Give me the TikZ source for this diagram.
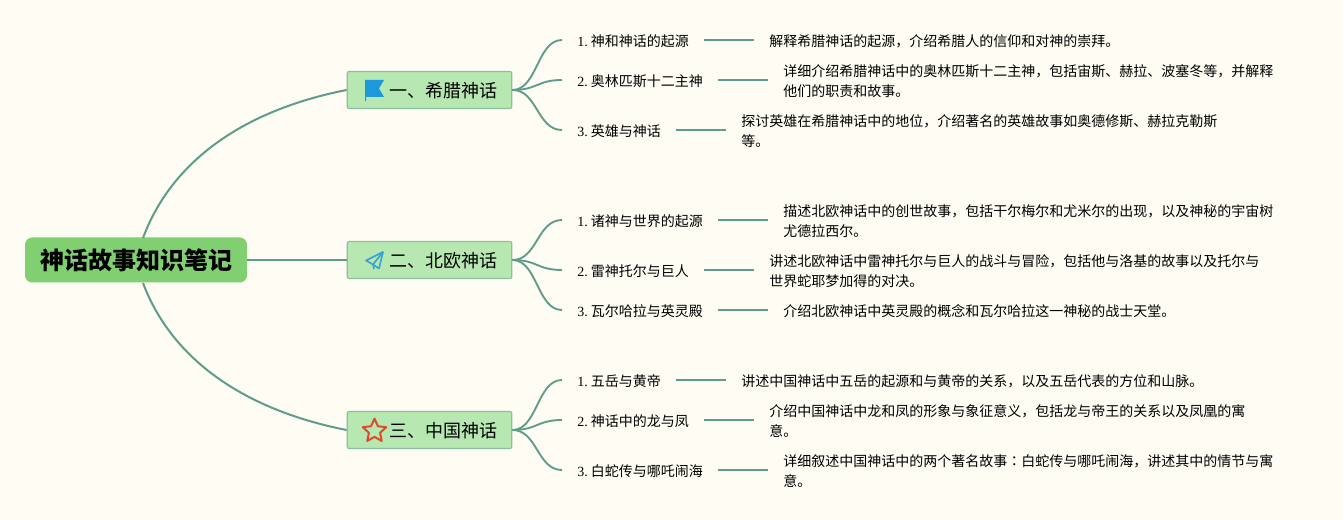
\documentclass[tikz,border=0pt]{standalone}
\usepackage{fontspec}
\setmainfont{Noto Sans CJK SC}
\newfontfamily\numfont{Liberation Serif}
\newfontfamily\tcfont{Noto Sans CJK TC}
\usetikzlibrary{positioning,shapes.geometric}
\definecolor{paper}{HTML}{FEFCF3}
\definecolor{linkcol}{HTML}{5F9C8C}
\definecolor{rootcol}{HTML}{80CF71}
\definecolor{topiccol}{HTML}{B7E8B2}
\definecolor{topicedge}{HTML}{8ABFA0}
\definecolor{flagcol}{HTML}{1E98DC}
\definecolor{planecol}{HTML}{36A3D3}
\definecolor{starcol}{HTML}{E2492C}
\tikzset{
rootbox/.style={fill=rootcol, rounded corners=5.5pt, minimum width=166.5pt, minimum height=33.75pt, inner sep=0pt, text height=17pt, text depth=2pt, font=\fontsize{18}{18}\selectfont\bfseries},
topicbox/.style={fill=topiccol, draw=topicedge, line width=0.9pt, rounded corners=1.5pt, minimum width=123.5pt, minimum height=27.75pt, inner sep=0pt, text height=13pt, text depth=1.5pt, font=\fontsize{13.5}{13.5}\selectfont},
subbox/.style={anchor=west, yshift=-0.75pt, inner xsep=11.25pt, inner ysep=2pt, font=\fontsize{10.5}{15}\selectfont},
descbox/.style={right=37.5pt of #1, inner xsep=11.25pt, inner ysep=2pt, align=left, font=\fontsize{10.5}{15}\selectfont},
rootlink/.style={draw=linkcol, line width=1.5pt},
sublink/.style={draw=linkcol, line width=1.4pt},
}
\newcommand{\subnum}[1]{{\numfont #1.}\hspace{2.3pt}}
\begin{document}
\begin{tikzpicture}[x=0.75pt,y=-0.75pt]
\useasboundingbox (0,0) rectangle (1343,520);
\fill[paper] (0,0) rectangle (1343,520);
% root and topics
\node[rootbox] (root) at (136,260) {\hspace{1.5pt}神话故事知识笔记};
\node[topicbox] (greek) at (429.5,90) {\hspace{21pt}一、希腊神话};
\node[topicbox] (norse) at (429.5,260) {\hspace{21pt}二、北欧神话};
\node[topicbox] (china) at (429.5,430) {\hspace{21pt}三、中国神话};
\coordinate (rootup) at (143,238);
\coordinate (rootdown) at (143,283);
\draw[rootlink] (rootup) .. controls (172,160) and (245,110) .. (greek.west);
\draw[rootlink] (root.east) -- (norse.west);
\draw[rootlink] (rootdown) .. controls (172,360) and (245,410) .. (china.west);
% greek
\node[subbox] (g1) at (562,40) {\subnum{1}神和神话的起源};
\node[subbox] (g2) at (562,80) {\subnum{2}奥林匹斯十二主神};
\node[subbox] (g3) at (562,130) {\subnum{3}英雄与神话};
\node[descbox=g1] (gd1) {解释希腊神话的起源，介绍希腊人的信仰和对神的崇拜。};
\node[descbox=g2] (gd2) {详细介绍希腊神话中的奥林匹斯十二主神，包括宙斯、赫拉、波塞冬等，并解释\\他们的职责和故事。};
\node[descbox=g3] (gd3) {探讨英雄在希腊神话中的地位，介绍著名的英雄故事如奥德修斯、赫拉克勒斯\\等。};
% norse
\node[subbox] (n1) at (562,220) {\subnum{1}诸神与世界的起源};
\node[subbox] (n2) at (562,270) {\subnum{2}雷神托尔与巨人};
\node[subbox] (n3) at (562,310) {\subnum{3}瓦尔哈拉与英灵殿};
\node[descbox=n1] (nd1) {描述北欧神话中的创世故事，包括干尔梅尔和尤米尔的出现，以及神秘的宇宙树\\尤德拉西尔。};
\node[descbox=n2] (nd2) {讲述北欧神话中雷神托尔与巨人的战斗与冒险，包括他与洛基的故事以及托尔与\\世界蛇耶梦加得的对决。};
\node[descbox=n3] (nd3) {介绍北欧神话中英灵殿的概念和瓦尔哈拉这一神秘的战士天堂。};
% china
\node[subbox] (c1) at (562,380) {\subnum{1}五岳与黄帝};
\node[subbox] (c2) at (562,420) {\subnum{2}神话中的龙与凤};
\node[subbox] (c3) at (562,470) {\subnum{3}白蛇传与哪吒闹海};
\node[descbox=c1] (cd1) {讲述中国神话中五岳的起源和与黄帝的关系，以及五岳代表的方位和山脉。};
\node[descbox=c2] (cd2) {介绍中国神话中龙和凤的形象与象征意义，包括龙与帝王的关系以及凤凰的寓\\意。};
\node[descbox=c3] (cd3) {详细叙述中国神话中的两个著名故事{\tcfont ：}白蛇传与哪吒闹海，讲述其中的情节与寓\\意。};
% links
\foreach \topic/\kid in {greek/g1,greek/g2,greek/g3,norse/n1,norse/n2,norse/n3,china/c1,china/c2,china/c3}
\draw[sublink] (\topic.east) .. controls +(25,0) and ([xshift=-18.75pt,yshift=0.75pt]\kid.west) .. ([yshift=0.75pt]\kid.west);
\foreach \kid/\leaf in {g1/gd1,g2/gd2,g3/gd3,n1/nd1,n2/nd2,n3/nd3,c1/cd1,c2/cd2,c3/cd3}
\draw[sublink] ([yshift=0.75pt]\kid.east) -- ([yshift=0.75pt]\leaf.west);
% icons
\fill[flagcol] (365,80) -- (384,80) -- (379,88.5) -- (384,97) -- (366,97) -- (366,101) -- (365,101) -- cycle;
\draw[planecol, line width=1.2pt, line join=round] (383,252) -- (366,260.5) -- (373,264.5) -- (379,268.5) -- cycle;
\draw[planecol, line width=1.2pt, line join=round] (373,264.5) -- (383,252) (373,264.5) -- (374,269);
\node[star, star points=5, star point ratio=2.1, draw=starcol, line width=1.5pt, line join=round, minimum size=18.5pt, inner sep=0pt] (staricon) at (374.5,431) {};
\end{tikzpicture}
\end{document}
